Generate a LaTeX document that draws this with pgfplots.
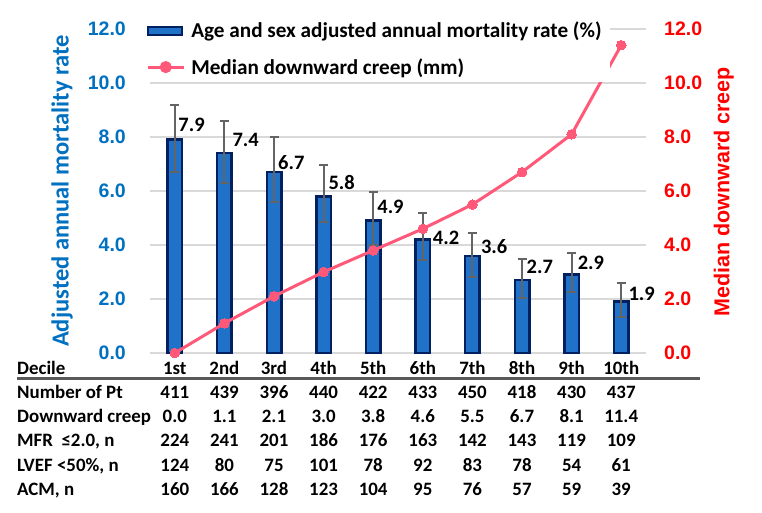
\documentclass[border=0pt]{standalone}
\usepackage{fontspec}
\setmainfont{Carlito}
\newfontfamily\arialf[BoldFont={Liberation Sans Bold}]{Liberation Sans}
\usepackage{pgfplots}
\usepackage{pgfplotstable}
\pgfplotsset{compat=1.18}
\definecolor{axisblue}{RGB}{0,112,192}
\definecolor{axisred}{RGB}{255,0,0}
\definecolor{barfill}{RGB}{32,114,200}
\definecolor{barnavy}{RGB}{0,32,96}
\definecolor{creep}{RGB}{255,88,120}
\definecolor{errgray}{RGB}{100,100,100}
\definecolor{gridgray}{RGB}{217,217,217}
\definecolor{rulegray}{RGB}{89,89,89}

\pgfplotstableread{
x y ep em
1 7.9 1.3 1.2
2 7.4 1.2 1.1
3 6.7 1.3 1.1
4 5.8 1.15 0.95
5 4.9 1.05 0.9
6 4.2 1.0 0.75
7 3.6 0.85 0.8
8 2.7 0.8 0.65
9 2.9 0.8 0.65
10 1.9 0.7 0.55
}\mort

\pgfplotstableread{
x y
1 0.0
2 1.1
3 2.1
4 3.0
5 3.8
6 4.6
7 5.5
8 6.7
9 8.1
10 11.4
}\creepdata

\pgfplotstableread{
x y label
1.07 8.45 7.9
2.16 7.9 7.4
3.08 7.05 6.7
4.095 6.3 5.8
5.08 5.4 4.9
6.2 4.25 4.2
7.17 3.93 3.6
8.09 3.2 2.7
9.12 3.33 2.9
10.145 2.2 1.9
}\labeldata

\newcommand{\tabfont}{\bfseries\fontsize{18.9}{24.2}\selectfont}
\newcommand{\tickfont}{\arialf\bfseries\fontsize{19.5}{19.5}\selectfont}

\begin{document}
\begin{tikzpicture}
\begin{axis}[
  at={(150pt,159pt)}, anchor=south west,
  scale only axis, width=496pt, height=324pt,
  xmin=0.5, xmax=10.5, ymin=0, ymax=12,
  axis line style={draw=none},
  major tick length=0pt,
  ytick={0,2,...,12},
  yticklabels={0.0,2.0,4.0,6.0,8.0,10.0,12.0},
  ymajorgrids, grid style={gridgray, line width=1.3pt},
  yticklabel style={font=\tickfont, text=axisblue, inner sep=0pt, anchor=east},
  yticklabel shift=24pt,
  ylabel={Adjusted annual mortality rate},
  ylabel style={at={(axis description cs:-0.1774,0.5)}, anchor=center, font=\bfseries\fontsize{24.5}{24.5}\selectfont, text=axisblue},
  xtick={1,...,10},
  xticklabels={
    {\strut 1st\\411\\0.0\\224\\124\\160},
    {\strut 2nd\\439\\1.1\\241\\80\\166},
    {\strut 3rd\\396\\2.1\\201\\75\\128},
    {\strut 4th\\440\\3.0\\186\\101\\123},
    {\strut 5th\\422\\3.8\\176\\78\\104},
    {\strut 6th\\433\\4.6\\163\\92\\95},
    {\strut 7th\\450\\5.5\\142\\83\\76},
    {\strut 8th\\418\\6.7\\143\\78\\57},
    {\strut 9th\\430\\8.1\\119\\54\\59},
    {\strut 10th\\437\\11.4\\109\\61\\39}},
  xticklabel style={font=\tabfont, align=center, anchor=north, inner sep=0pt, yshift=-4.1pt},
  clip=false,
]
\addplot[ybar, bar width=14.5pt, fill=barfill, draw=barnavy, line width=2.5pt,
  error bars/.cd, y dir=both, y explicit,
  error bar style={line width=2pt, errgray},
  error mark options={rotate=90, mark size=4.5pt, line width=2pt, errgray}]
  table[x=x, y=y, y error plus=ep, y error minus=em] {\mort};
\addplot[draw=none, mark=none, nodes near coords, point meta=explicit symbolic,
  every node near coord/.append style={anchor=west, inner sep=0pt, font=\bfseries\fontsize{20.5}{20.5}\selectfont, text=black}]
  table[x=x, y=y, meta=label] {\labeldata};
\end{axis}

\begin{axis}[
  at={(150pt,159pt)}, anchor=south west,
  scale only axis, width=496pt, height=324pt,
  xmin=0.5, xmax=10.5, ymin=0, ymax=12,
  axis x line=none,
  axis y line*=right,
  axis line style={draw=none},
  major tick length=0pt,
  ytick={0,2,...,12},
  yticklabels={0.0,2.0,4.0,6.0,8.0,10.0,12.0},
  yticklabel style={font=\tickfont, text=axisred, inner sep=0pt, anchor=west},
  yticklabel shift=18pt,
  ylabel={Median downward creep},
  ylabel style={at={(axis description cs:1.157,0.497)}, anchor=center, font=\arialf\bfseries\fontsize{21.5}{21.5}\selectfont, text=axisred},
  legend style={at={(axis description cs:-0.02,1.04)}, anchor=north west, draw=none, fill=white,
    font=\bfseries\fontsize{21.2}{21.2}\selectfont, inner xsep=6pt, inner ysep=4pt,
    row sep=15pt, /tikz/column sep=4pt},
  legend cell align=left,
  clip=false,
]
\addlegendimage{legend image code/.code={\draw[fill=barfill, draw=barnavy, line width=2.5pt] (0pt,-4pt) rectangle (34pt,4pt);}}
\addlegendentry{Age and sex adjusted annual mortality rate (\%)}
\addplot[creep, line width=3pt, mark=*, mark size=4.8pt, mark options={fill=creep, draw=creep, line width=0pt},
  legend image code/.code={\draw[creep, line width=3pt] (0pt,0pt) -- (36pt,0pt); \fill[creep] (18pt,0pt) circle (4.5pt);}]
  table[x=x, y=y] {\creepdata};
\addlegendentry{Median downward creep (mm)}
\end{axis}

\node[anchor=north west, align=left, inner sep=0pt, font=\tabfont] at (17pt,154.9pt)
  {\strut Decile\\Number of Pt\\Downward creep\\MFR\ \ ≤2.0, n\\LVEF <50\%, n\\ACM, n};
\draw[rulegray, line width=3pt] (17pt,134pt) -- (700pt,134pt);

\pgfresetboundingbox
\path (0pt,0pt) rectangle (762pt,512pt);
\end{tikzpicture}
\end{document}
